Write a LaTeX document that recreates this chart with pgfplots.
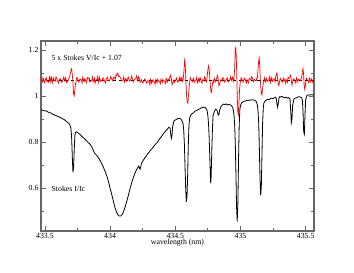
\documentclass[border=0pt]{standalone}
\usepackage{pgfplots}
\pgfplotsset{compat=1.18}
\usepackage{fontspec}
\setmainfont{Liberation Serif}
\begin{document}
\begin{tikzpicture}[x=1pt,y=1pt]
\path[use as bounding box] (0,0) rectangle (354,273);
\begin{axis}[
  at={(41pt,42pt)}, anchor=south west,
  scale only axis, width=273pt, height=190pt,
  xmin=433.47, xmax=435.564, ymin=0.415, ymax=1.24,
  xtick={433.5,434,434.5,435,435.5},
  xticklabels={433.5,434,434.5,435,435.5},
  minor xtick={433.75,434.25,434.75,435.25},
  ytick={0.6,0.8,1,1.2},
  yticklabels={0.6,0.8,1,1.2},
  minor ytick={0.5,0.7,0.9,1.1},
  tick align=inside,
  major tick length=5pt, minor tick length=3pt,
  every tick/.style={gray!80!black, line width=0.8pt},
  axis line style={gray!80!black, line width=1.2pt},
  tick label style={font=\fontsize{7.8}{9}\selectfont, black},
  xticklabel style={yshift=1.5pt},
  yticklabel style={xshift=1pt},
  /pgf/number format/assume math mode=true,
  xlabel={wavelength (nm)},
  xlabel style={font=\fontsize{7.8}{9}\selectfont, yshift=6pt},
  clip=true,
]
\addplot[black, dashed, line width=0.4pt] coordinates {(433.47,1.07) (435.564,1.07)};
\addplot[red, line width=0.7pt] coordinates {
(433.47,1.078) (433.475,1.066) (433.48,1.062) (433.485,1.080) (433.49,1.074) (433.495,1.058) (433.50,1.063) (433.505,1.075) (433.51,1.081) (433.515,1.064) (433.52,1.067) (433.53,1.060) (433.535,1.084) (433.54,1.076) (433.545,1.061) (433.55,1.082) (433.56,1.058)
(433.565,1.079) (433.57,1.071) (433.58,1.066) (433.585,1.085) (433.59,1.079) (433.60,1.064) (433.605,1.057) (433.61,1.072) (433.62,1.077) (433.625,1.068) (433.63,1.060) (433.64,1.074) (433.645,1.083) (433.65,1.067) (433.66,1.081)
(433.665,1.059) (433.67,1.062) (433.68,1.070) (433.69,1.085) (433.695,1.100) (433.700,1.112) (433.705,1.119) (433.710,1.095) (433.715,1.060) (433.720,1.010) (433.725,1.003)
(433.730,1.030) (433.735,1.055) (433.74,1.066) (433.745,1.082) (433.75,1.078) (433.76,1.061) (433.765,1.070) (433.77,1.075) (433.78,1.069) (433.785,1.058) (433.79,1.083) (433.80,1.064) (433.805,1.076) (433.81,1.072)
(433.82,1.059) (433.825,1.081) (433.83,1.076) (433.84,1.080) (433.845,1.062) (433.85,1.065) (433.86,1.071) (433.865,1.084) (433.87,1.062) (433.88,1.079) (433.885,1.057) (433.89,1.068) (433.90,1.074) (433.905,1.086) (433.91,1.060)
(433.92,1.083) (433.925,1.064) (433.93,1.070) (433.94,1.066) (433.945,1.080) (433.95,1.078) (433.96,1.063) (433.965,1.058) (433.97,1.075) (433.98,1.082) (433.985,1.069) (433.99,1.067) (434.00,1.073) (434.005,1.086) (434.01,1.079)
(434.02,1.068) (434.025,1.077) (434.03,1.084) (434.04,1.075) (434.045,1.093) (434.05,1.090) (434.055,1.097) (434.06,1.101) (434.065,1.086) (434.07,1.088) (434.08,1.080) (434.085,1.071) (434.09,1.066) (434.10,1.072) (434.105,1.084) (434.11,1.061)
(434.12,1.077) (434.125,1.065) (434.13,1.070) (434.14,1.083) (434.145,1.074) (434.15,1.066) (434.16,1.074) (434.165,1.088) (434.17,1.079) (434.18,1.063) (434.185,1.071) (434.19,1.075) (434.20,1.081) (434.205,1.091) (434.21,1.068)
(434.22,1.086) (434.225,1.072) (434.23,1.060) (434.24,1.072) (434.245,1.064) (434.25,1.058) (434.26,1.066) (434.265,1.075) (434.27,1.071) (434.28,1.057) (434.285,1.063) (434.29,1.068) (434.30,1.062) (434.305,1.051) (434.31,1.074)
(434.32,1.055) (434.325,1.070) (434.33,1.067) (434.34,1.061) (434.345,1.052) (434.35,1.072) (434.36,1.058) (434.365,1.074) (434.37,1.069) (434.38,1.063) (434.385,1.054) (434.39,1.075) (434.40,1.059) (434.405,1.073) (434.41,1.068)
(434.42,1.064) (434.425,1.056) (434.43,1.078) (434.44,1.062) (434.445,1.074) (434.45,1.070) (434.46,1.085) (434.465,1.092) (434.47,1.075) (434.475,1.050) (434.48,1.056) (434.49,1.072)
(434.495,1.060) (434.50,1.066) (434.51,1.079) (434.515,1.068) (434.52,1.061) (434.53,1.073) (434.535,1.084) (434.54,1.068) (434.55,1.081) (434.555,1.064) (434.56,1.070) (434.565,1.100) (434.570,1.140) (434.573,1.165)
(434.577,1.130) (434.582,1.060) (434.587,1.000) (434.592,0.975) (434.597,0.970) (434.602,1.010) (434.607,1.045) (434.61,1.060) (434.615,1.081) (434.62,1.074) (434.63,1.063) (434.635,1.072)
(434.64,1.078) (434.645,1.060) (434.65,1.066) (434.66,1.071) (434.665,1.083) (434.67,1.059) (434.68,1.076) (434.685,1.065) (434.69,1.082) (434.70,1.064) (434.705,1.057) (434.71,1.073) (434.72,1.067) (434.725,1.085) (434.73,1.079)
(434.735,1.066) (434.74,1.062) (434.745,1.090) (434.750,1.115) (434.755,1.132) (434.760,1.120) (434.765,1.080) (434.770,1.040) (434.775,1.016) (434.780,1.025) (434.785,1.055)
(434.79,1.068) (434.795,1.059) (434.80,1.077) (434.81,1.063) (434.815,1.074) (434.82,1.083) (434.825,1.090) (434.83,1.070) (434.835,1.045) (434.84,1.052) (434.845,1.066) (434.85,1.073) (434.86,1.066) (434.865,1.081)
(434.87,1.078) (434.88,1.061) (434.885,1.070) (434.89,1.072) (434.90,1.080) (434.905,1.062) (434.91,1.065) (434.92,1.074) (434.925,1.086) (434.93,1.069) (434.94,1.083) (434.945,1.064) (434.95,1.070) (434.955,1.120)
(434.960,1.190) (434.964,1.216) (434.968,1.170) (434.972,1.080) (434.976,0.990) (434.980,0.930) (434.984,0.919) (434.988,0.960) (434.993,1.030) (434.998,1.058)
(435.00,1.066) (435.005,1.080) (435.01,1.075) (435.02,1.061) (435.025,1.071) (435.03,1.079) (435.04,1.068) (435.045,1.058) (435.05,1.072) (435.06,1.058) (435.065,1.075) (435.07,1.077) (435.08,1.070) (435.085,1.085) (435.09,1.083)
(435.10,1.064) (435.105,1.073) (435.11,1.071) (435.12,1.066) (435.125,1.079) (435.13,1.080) (435.135,1.120) (435.140,1.155) (435.144,1.165) (435.148,1.130) (435.152,1.080) (435.156,1.040)
(435.160,1.012) (435.165,1.006) (435.170,1.035) (435.175,1.058) (435.18,1.070) (435.185,1.081) (435.19,1.062) (435.20,1.078) (435.205,1.064) (435.21,1.067) (435.22,1.073) (435.225,1.086) (435.23,1.059)
(435.24,1.081) (435.245,1.065) (435.25,1.069) (435.26,1.075) (435.265,1.062) (435.27,1.084) (435.275,1.095) (435.28,1.102) (435.285,1.075) (435.29,1.052) (435.295,1.046) (435.30,1.066)
(435.305,1.078) (435.31,1.073) (435.32,1.061) (435.325,1.070) (435.33,1.079) (435.34,1.068) (435.345,1.057) (435.35,1.074) (435.36,1.060) (435.365,1.082) (435.37,1.077) (435.38,1.085) (435.385,1.092) (435.39,1.070)
(435.395,1.048) (435.40,1.062) (435.405,1.076) (435.41,1.075) (435.42,1.066) (435.425,1.057) (435.43,1.080) (435.44,1.063) (435.445,1.074) (435.45,1.072) (435.46,1.068) (435.47,1.085) (435.475,1.105)
(435.480,1.120) (435.484,1.095) (435.488,1.050) (435.493,1.030) (435.498,1.045) (435.50,1.062) (435.505,1.079) (435.51,1.074) (435.52,1.066) (435.525,1.058) (435.53,1.078) (435.54,1.061) (435.545,1.075)
(435.55,1.071) (435.555,1.060) (435.56,1.067)
};
\addplot[black, line width=0.8pt] coordinates {
(433.47,0.941) (433.48,0.940) (433.49,0.938) (433.50,0.936) (433.51,0.937) (433.52,0.933) (433.53,0.930) (433.54,0.928) (433.55,0.926) (433.56,0.922)
(433.57,0.920) (433.58,0.917) (433.59,0.915) (433.60,0.912) (433.61,0.910) (433.62,0.907) (433.63,0.904) (433.64,0.901) (433.65,0.898) (433.66,0.893)
(433.67,0.889) (433.68,0.884) (433.69,0.878) (433.70,0.860) (433.705,0.820) (433.71,0.740) (433.715,0.670) (433.72,0.690) (433.725,0.770) (433.73,0.830)
(433.735,0.842) (433.74,0.846) (433.75,0.843) (433.76,0.838) (433.77,0.834) (433.78,0.828) (433.79,0.822) (433.80,0.818) (433.81,0.812) (433.82,0.806)
(433.83,0.800) (433.84,0.795) (433.85,0.789) (433.86,0.780) (433.87,0.767) (433.88,0.753) (433.89,0.748) (433.90,0.742) (433.91,0.733) (433.92,0.724)
(433.93,0.714) (433.94,0.703) (433.95,0.690) (433.96,0.676) (433.97,0.662) (433.98,0.645) (433.99,0.624) (434.00,0.600) (434.01,0.580) (434.02,0.557)
(434.03,0.533) (434.04,0.512) (434.05,0.496) (434.06,0.485) (434.07,0.480) (434.08,0.480) (434.09,0.485) (434.10,0.495) (434.11,0.510) (434.12,0.528)
(434.13,0.548) (434.14,0.570) (434.15,0.592) (434.16,0.613) (434.17,0.633) (434.18,0.650) (434.19,0.665) (434.20,0.678) (434.21,0.688) (434.22,0.697)
(434.225,0.690) (434.23,0.683) (434.235,0.692) (434.24,0.708) (434.25,0.718) (434.26,0.727) (434.27,0.735) (434.28,0.743) (434.29,0.751) (434.30,0.758)
(434.31,0.766) (434.32,0.772) (434.33,0.779) (434.34,0.786) (434.35,0.793) (434.36,0.799) (434.37,0.807) (434.38,0.815) (434.39,0.822) (434.40,0.830)
(434.41,0.838) (434.42,0.845) (434.43,0.852) (434.44,0.858) (434.45,0.865) (434.46,0.862) (434.465,0.835) (434.47,0.817) (434.475,0.830) (434.48,0.870)
(434.49,0.893) (434.50,0.897) (434.51,0.900) (434.52,0.903) (434.53,0.904) (434.54,0.902) (434.55,0.896) (434.56,0.880) (434.565,0.850) (434.57,0.790)
(434.575,0.690) (434.58,0.595) (434.585,0.542) (434.59,0.565) (434.595,0.660) (434.60,0.790) (434.605,0.875) (434.61,0.905) (434.62,0.920) (434.63,0.925)
(434.64,0.928) (434.65,0.935) (434.66,0.938) (434.67,0.940) (434.68,0.944) (434.69,0.946) (434.70,0.950) (434.71,0.951) (434.72,0.953) (434.73,0.950)
(434.74,0.944) (434.745,0.935) (434.75,0.915) (434.755,0.880) (434.76,0.820) (434.765,0.730) (434.77,0.640) (434.772,0.622) (434.775,0.650) (434.78,0.760) (434.785,0.860) (434.79,0.915)
(434.80,0.935) (434.81,0.944) (434.82,0.940) (434.825,0.928) (434.83,0.918) (434.835,0.920) (434.84,0.940) (434.85,0.955) (434.86,0.962) (434.87,0.966)
(434.88,0.964) (434.89,0.967) (434.90,0.962) (434.91,0.965) (434.92,0.963) (434.93,0.960) (434.94,0.952) (434.945,0.940) (434.95,0.920) (434.955,0.880) (434.96,0.800)
(434.965,0.670) (434.97,0.520) (434.975,0.456) (434.98,0.530) (434.985,0.720) (434.99,0.870) (434.995,0.940) (435.00,0.960) (435.01,0.972) (435.02,0.976)
(435.03,0.978) (435.04,0.980) (435.05,0.983) (435.06,0.981) (435.07,0.984) (435.08,0.983) (435.09,0.985) (435.10,0.984) (435.11,0.982) (435.12,0.978)
(435.125,0.972) (435.13,0.960) (435.135,0.935) (435.14,0.880) (435.145,0.770) (435.15,0.640) (435.155,0.570) (435.16,0.610) (435.165,0.750) (435.17,0.885) (435.175,0.950)
(435.18,0.972) (435.19,0.980) (435.20,0.984) (435.21,0.987) (435.22,0.985) (435.23,0.990) (435.24,0.992) (435.25,0.989) (435.26,0.994) (435.27,0.996)
(435.275,0.990) (435.28,0.965) (435.285,0.952) (435.29,0.970) (435.295,0.990) (435.30,0.998) (435.31,0.997) (435.32,0.999) (435.33,0.995) (435.34,0.993)
(435.35,0.996) (435.36,0.992) (435.37,0.994) (435.38,0.988) (435.385,0.940) (435.39,0.885) (435.395,0.900) (435.40,0.960) (435.41,0.988) (435.42,0.992)
(435.43,0.994) (435.44,0.997) (435.45,0.998) (435.46,0.996) (435.47,0.994) (435.475,0.982) (435.48,0.930) (435.485,0.845) (435.49,0.835) (435.495,0.920)
(435.50,0.985) (435.51,1.004) (435.52,1.006) (435.53,1.005) (435.54,1.007) (435.55,1.006) (435.56,1.006)
};
\node[anchor=west, inner sep=0pt, font=\fontsize{7.8}{9}\selectfont] at (axis cs:433.55,1.168) {5 x Stokes V/Ic + 1.07};
\node[anchor=west, inner sep=0pt, font=\fontsize{7.8}{9}\selectfont] at (axis cs:433.55,0.600) {Stokes I/Ic};
\end{axis}
\end{tikzpicture}
\end{document}
